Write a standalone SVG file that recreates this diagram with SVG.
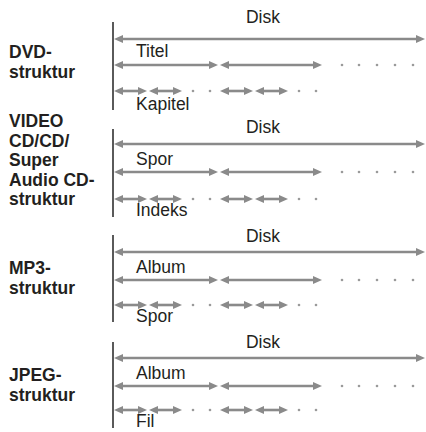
<svg xmlns="http://www.w3.org/2000/svg" width="426" height="432" viewBox="0 0 426 432">
<style>
.lbl{font-family:"Liberation Sans",Arial,Helvetica,sans-serif;font-size:17.5px;font-weight:bold;fill:#231f20}
.t{font-family:"Liberation Sans",Arial,Helvetica,sans-serif;font-size:17.5px;fill:#231f20}
.c{text-anchor:middle}
.a{stroke:#8a8a8a;stroke-width:2.6;fill:none;marker-start:url(#h);marker-end:url(#h)}
.v{stroke:#5a5a5a;stroke-width:2;fill:none}
.d{fill:#9a9a9a}
</style>
<defs>
<marker id="h" viewBox="0 0 9 8" refX="3" refY="4" markerWidth="9" markerHeight="8" markerUnits="userSpaceOnUse" orient="auto-start-reverse">
<path d="M0,0 L9,4 L0,8 z" fill="#8a8a8a"/>
</marker>
<g id="dots2"><circle class="d" cx="342" cy="0" r="1.3"/><circle class="d" cx="359" cy="0" r="1.3"/><circle class="d" cx="377" cy="0" r="1.3"/><circle class="d" cx="395" cy="0" r="1.3"/><circle class="d" cx="413" cy="0" r="1.3"/></g>
<g id="dots3"><circle class="d" cx="193" cy="0" r="1.3"/><circle class="d" cx="210" cy="0" r="1.3"/><circle class="d" cx="299" cy="0" r="1.3"/><circle class="d" cx="316" cy="0" r="1.3"/></g>
</defs>
<rect width="426" height="432" fill="#fff"/>

<g id="dvd">
<text class="lbl" x="9" y="58">DVD-</text>
<text class="lbl" x="9" y="78">struktur</text>
<text class="t c" x="263" y="23">Disk</text>
<text class="t" x="136" y="57">Titel</text>
<text class="t" x="136" y="110">Kapitel</text>
</g>
<g id="vcd">
<text class="lbl" x="9" y="127">VIDEO</text>
<text class="lbl" x="9" y="146.5">CD/CD/</text>
<text class="lbl" x="9" y="166">Super</text>
<text class="lbl" x="9" y="185.5">Audio CD-</text>
<text class="lbl" x="9" y="205">struktur</text>
<text class="t c" x="263" y="133">Disk</text>
<text class="t" x="136" y="165">Spor</text>
<text class="t" x="136" y="216">Indeks</text>
</g>
<g id="mp3">
<text class="lbl" x="9" y="274">MP3-</text>
<text class="lbl" x="9" y="294">struktur</text>
<text class="t c" x="263" y="242">Disk</text>
<text class="t" x="136" y="273">Album</text>
<text class="t" x="136" y="322">Spor</text>
</g>
<g id="jpeg">
<text class="lbl" x="9" y="381">JPEG-</text>
<text class="lbl" x="9" y="401">struktur</text>
<text class="t c" x="263" y="348">Disk</text>
<text class="t" x="136" y="379">Album</text>
<text class="t" x="136" y="427">Fil</text>
</g>

<g id="connectors">
<line class="v" x1="113" y1="22" x2="113" y2="110"/>
<line class="a" x1="120" y1="39" x2="419" y2="39"/>
<line class="a" x1="120" y1="65" x2="212" y2="65"/>
<line class="a" x1="226" y1="65" x2="316" y2="65"/>
<line class="a" x1="120" y1="91" x2="141" y2="91"/>
<line class="a" x1="155" y1="91" x2="176" y2="91"/>
<line class="a" x1="226" y1="91" x2="247" y2="91"/>
<line class="a" x1="261" y1="91" x2="282" y2="91"/>
<use href="#dots2" y="65"/>
<use href="#dots3" y="91"/>

<line class="v" x1="113" y1="129" x2="113" y2="217"/>
<line class="a" x1="120" y1="144" x2="419" y2="144"/>
<line class="a" x1="120" y1="172" x2="212" y2="172"/>
<line class="a" x1="226" y1="172" x2="316" y2="172"/>
<line class="a" x1="120" y1="199" x2="141" y2="199"/>
<line class="a" x1="155" y1="199" x2="176" y2="199"/>
<line class="a" x1="226" y1="199" x2="247" y2="199"/>
<line class="a" x1="261" y1="199" x2="282" y2="199"/>
<use href="#dots2" y="172"/>
<use href="#dots3" y="199"/>

<line class="v" x1="113" y1="235" x2="113" y2="322"/>
<line class="a" x1="120" y1="252" x2="419" y2="252"/>
<line class="a" x1="120" y1="280" x2="212" y2="280"/>
<line class="a" x1="226" y1="280" x2="316" y2="280"/>
<line class="a" x1="120" y1="305" x2="141" y2="305"/>
<line class="a" x1="155" y1="305" x2="176" y2="305"/>
<line class="a" x1="226" y1="305" x2="247" y2="305"/>
<line class="a" x1="261" y1="305" x2="282" y2="305"/>
<use href="#dots2" y="280"/>
<use href="#dots3" y="305"/>

<line class="v" x1="113" y1="342" x2="113" y2="428"/>
<line class="a" x1="120" y1="358" x2="419" y2="358"/>
<line class="a" x1="120" y1="386" x2="212" y2="386"/>
<line class="a" x1="226" y1="386" x2="316" y2="386"/>
<line class="a" x1="120" y1="410" x2="141" y2="410"/>
<line class="a" x1="155" y1="410" x2="176" y2="410"/>
<line class="a" x1="226" y1="410" x2="247" y2="410"/>
<line class="a" x1="261" y1="410" x2="282" y2="410"/>
<use href="#dots2" y="386"/>
<use href="#dots3" y="410"/>
</g>
</svg>
